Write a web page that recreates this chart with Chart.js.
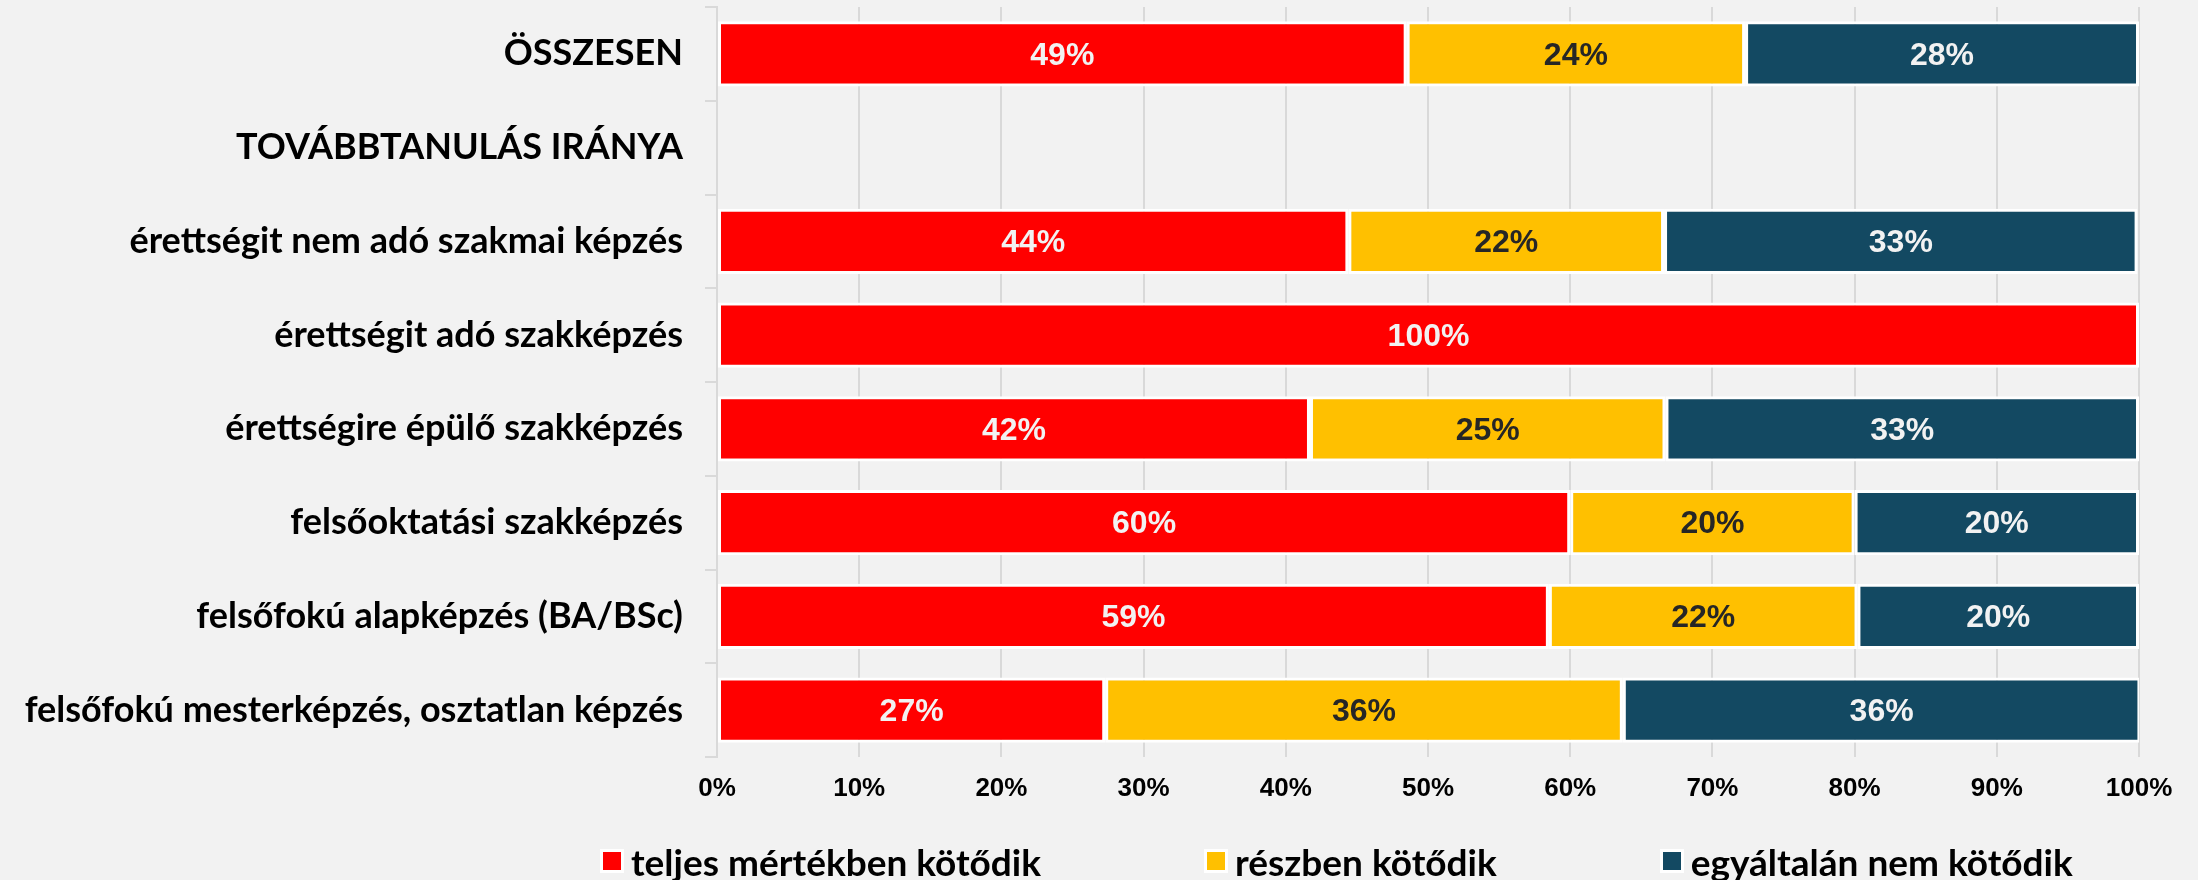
<!DOCTYPE html>
<html>
<head>
<meta charset="utf-8">
<script src="https://cdn.jsdelivr.net/npm/chart.js@4/dist/chart.umd.min.js"></script>
<style>
  html, body { margin: 0; padding: 0; background: #F2F2F2; }
  #wrap { position: relative; width: 2198px; height: 880px; }
  #chart { display: block; }
  #legend {
    position: absolute; left: 600px; top: 843px; height: 36px; line-height: 36px;
    display: flex; align-items: center; gap: 163px;
    font: bold 37px Lato, "Open Sans", sans-serif; color: #000;
  }
  #legend .item { display: flex; align-items: center; }
  #legend .box { width: 18px; height: 18px; border: 3px solid #fff; margin-right: 7px; }
</style>
</head>
<body>
<div id="wrap">
  <canvas id="chart" width="2198" height="880"></canvas>
  <div id="legend"></div>
</div>
<script>
// ===== Data =====
const categories = [
  'ÖSSZESEN',
  'TOVÁBBTANULÁS IRÁNYA',
  'érettségit nem adó szakmai képzés',
  'érettségit adó szakképzés',
  'érettségire épülő szakképzés',
  'felsőoktatási szakképzés',
  'felsőfokú alapképzés (BA/BSc)',
  'felsőfokú mesterképzés, osztatlan képzés',
];
const seriesNames = ['teljes mértékben kötődik', 'részben kötődik', 'egyáltalán nem kötődik'];
const fullyBound   = [48.5, null, 44.4, 100, 41.7, 60, 58.5, 27.3];
const partlyBound  = [23.8, null, 22.2, null, 25.0, 20, 21.7, 36.4];
const notBound     = [27.7, null, 33.3, null, 33.3, 20, 19.8, 36.4];
const xTicks = [0, 10, 20, 30, 40, 50, 60, 70, 80, 90, 100];

const seriesColors = ['#FF0000', '#FFC000', '#134962'];
const labelColors = ['#F2F2F2', '#262626', '#F2F2F2'];

// ===== Value labels inside the bars =====
const valueLabels = {
  id: 'valueLabels',
  afterDatasetsDraw(chart) {
    const ctx = chart.ctx;
    ctx.save();
    ctx.font = 'bold 32px "Liberation Sans", Arial, sans-serif';
    ctx.textAlign = 'center';
    ctx.textBaseline = 'middle';
    chart.data.datasets.forEach((ds, di) => {
      chart.getDatasetMeta(di).data.forEach((bar, i) => {
        const v = ds.data[i];
        if (v == null) return;
        ctx.fillStyle = labelColors[di];
        ctx.fillText(Math.round(v) + '%', (bar.x + bar.base) / 2, bar.y + 2);
      });
    });
    ctx.restore();
  }
};

const values = [fullyBound, partlyBound, notBound];
const datasets = seriesNames.map((name, i) => ({
  label: name,
  data: values[i],
  backgroundColor: seriesColors[i],
  borderColor: '#FFFFFF',
  borderWidth: 3,
  borderSkipped: false,
  categoryPercentage: 1,
  barPercentage: 0.695,
}));

new Chart(document.getElementById('chart'), {
  type: 'bar',
  data: { labels: categories, datasets },
  options: {
    indexAxis: 'y',
    responsive: false,
    animation: false,
    layout: { padding: { top: 7, right: 59, left: 0, bottom: 0 } },
    plugins: {
      legend: { display: false },
      tooltip: { enabled: false },
    },
    scales: {
      x: {
        stacked: true,
        min: 0,
        max: 100,
        afterBuildTicks: (scale) => { scale.ticks = xTicks.map(v => ({ value: v })); },
        afterFit: (scale) => { scale.height = 123; },
        grid: { color: '#D9D9D9', lineWidth: 2, drawTicks: false },
        border: { display: false },
        ticks: {
          color: '#000',
          padding: 16,
          font: { family: '"Liberation Sans", Arial, sans-serif', size: 26, weight: 'bold' },
          callback: (v) => v + '%',
        },
      },
      y: {
        stacked: true,
        offset: true,
        afterFit: (scale) => {
          scale.width = 717;
          scale.paddingTop = 0;
          scale.paddingBottom = 0;
        },
        grid: { offset: true, drawOnChartArea: false, drawTicks: true, tickLength: 12, color: '#D9D9D9', lineWidth: 2 },
        border: { display: true, color: '#D9D9D9', width: 2 },
        ticks: {
          color: '#000',
          padding: 22,
          font: { family: 'Lato, "Open Sans", sans-serif', size: 36, weight: 'bold' },
        },
      },
    },
  },
  plugins: [valueLabels],
});

// ===== Legend =====
const legend = document.getElementById('legend');
seriesNames.forEach((name, i) => {
  const item = document.createElement('div');
  item.className = 'item';
  const box = document.createElement('span');
  box.className = 'box';
  box.style.background = seriesColors[i];
  const txt = document.createElement('span');
  txt.textContent = name;
  item.appendChild(box);
  item.appendChild(txt);
  legend.appendChild(item);
});
</script>
</body>
</html>
